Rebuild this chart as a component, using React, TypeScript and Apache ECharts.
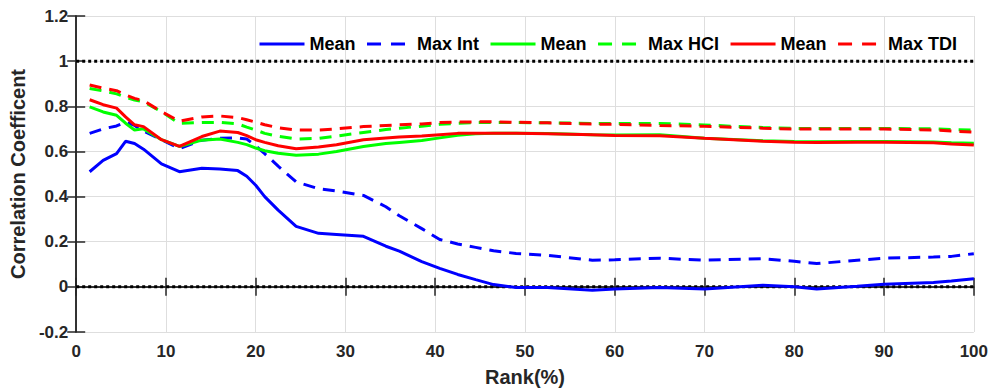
import React, { useEffect, useRef } from "react";
import * as echarts from "echarts";

const rank = [1.5, 3, 4.5, 5.5, 6.5, 7.5, 9.5, 11.5, 14, 16, 18, 19, 20, 21, 22.5, 24.5, 27, 29, 32, 34.5, 36, 38.5, 40.5, 42.5, 44.5, 46.5, 49, 52.5, 57.5, 60, 65, 70, 76.5, 80, 82.5, 87, 90, 95.5, 97.5, 100];

const meanInt = [0.51, 0.56, 0.59, 0.645, 0.635, 0.61, 0.545, 0.51, 0.525, 0.522, 0.515, 0.49, 0.45, 0.4, 0.34, 0.268, 0.237, 0.232, 0.224, 0.18, 0.158, 0.112, 0.082, 0.055, 0.032, 0.01, -0.003, -0.003, -0.015, -0.01, -0.003, -0.01, 0.007, 0.0, -0.01, 0.003, 0.012, 0.019, 0.026, 0.036];
const maxInt = [0.68, 0.7, 0.713, 0.73, 0.715, 0.69, 0.652, 0.613, 0.65, 0.658, 0.66, 0.655, 0.625, 0.59, 0.535, 0.465, 0.435, 0.425, 0.405, 0.355, 0.315, 0.258, 0.21, 0.19, 0.175, 0.16, 0.148, 0.14, 0.118, 0.12, 0.127, 0.118, 0.125, 0.113, 0.103, 0.118, 0.127, 0.132, 0.135, 0.147];
const meanHCI = [0.797, 0.775, 0.76, 0.725, 0.695, 0.7, 0.652, 0.622, 0.65, 0.655, 0.64, 0.63, 0.615, 0.603, 0.592, 0.583, 0.588, 0.6, 0.622, 0.635, 0.64, 0.648, 0.66, 0.672, 0.678, 0.68, 0.68, 0.679, 0.674, 0.673, 0.674, 0.658, 0.647, 0.644, 0.643, 0.644, 0.644, 0.642, 0.638, 0.636];
const maxHCI = [0.879, 0.868, 0.855, 0.84, 0.828, 0.82, 0.776, 0.724, 0.728, 0.729, 0.722, 0.708, 0.695, 0.68, 0.667, 0.655, 0.658, 0.668, 0.684, 0.697, 0.703, 0.712, 0.72, 0.725, 0.728, 0.728, 0.728, 0.727, 0.724, 0.724, 0.724, 0.717, 0.706, 0.702, 0.702, 0.702, 0.702, 0.7, 0.697, 0.695];
const meanTDI = [0.829, 0.807, 0.792, 0.753, 0.718, 0.71, 0.652, 0.622, 0.666, 0.69, 0.684, 0.67, 0.652, 0.64, 0.625, 0.612, 0.62, 0.63, 0.652, 0.66, 0.664, 0.668, 0.674, 0.68, 0.681, 0.681, 0.68, 0.678, 0.674, 0.671, 0.67, 0.658, 0.645, 0.641, 0.64, 0.641, 0.641, 0.638, 0.633, 0.629];
const maxTDI = [0.894, 0.88, 0.869, 0.85, 0.835, 0.825, 0.776, 0.734, 0.753, 0.757, 0.75, 0.74, 0.73, 0.718, 0.705, 0.695, 0.695, 0.7, 0.71, 0.715, 0.718, 0.722, 0.728, 0.73, 0.731, 0.731, 0.729, 0.727, 0.721, 0.72, 0.715, 0.711, 0.703, 0.699, 0.699, 0.699, 0.699, 0.695, 0.69, 0.685];

const refLevels = [0, 1];
const xRange = [0, 100];
const yRange = [-0.2, 1.2];

const seriesDefs = [
  { name: "Mean (Int)", values: meanInt, color: "#0000ff", dashed: false },
  { name: "Max Int", values: maxInt, color: "#0000ff", dashed: true },
  { name: "Mean (HCI)", values: meanHCI, color: "#00ff00", dashed: false },
  { name: "Max HCI", values: maxHCI, color: "#00ff00", dashed: true },
  { name: "Mean (TDI)", values: meanTDI, color: "#ff0000", dashed: false },
  { name: "Max TDI", values: maxTDI, color: "#ff0000", dashed: true },
];

const FONT = "Liberation Sans, Arial, Helvetica, sans-serif";
const AX = "#262626";

export default function App() {
  const ref = useRef<HTMLDivElement>(null);
  useEffect(() => {
    document.body.style.margin = "0";
    document.body.style.overflow = "hidden";
    const chart = echarts.init(ref.current!, undefined, { renderer: "svg", width: 991, height: 392 });
    const fmt = (v: number) => String(parseFloat(v.toFixed(1)));
    const lineSeries: any[] = seriesDefs.map((s) => ({
      name: s.name,
      type: "line",
      symbol: "none",
      smooth: false,
      data: rank.map((r, i) => [r, s.values[i]]),
      lineStyle: { color: s.color, width: 3, type: s.dashed ? [12, 8] : "solid" },
      itemStyle: { color: s.color },
      z: 3,
    }));
    const refSeries = refLevels.map((lv) => ({
      name: "ref" + lv,
      type: "line",
      symbol: "none",
      data: xRange.map((x) => [x, lv]),
      lineStyle: { color: "#000", width: 3, type: [3, 3] },
      z: 2,
      silent: true,
    }));
    chart.setOption({
      animation: false,
      grid: { left: 74, right: 17, top: 16, bottom: 55, containLabel: false },
      legend: {
        data: seriesDefs.map((s) => ({
          name: s.name,
          lineStyle: { width: 3, type: s.dashed ? [14, 10] : "solid" },
        })),
        left: 253,
        top: 30,
        itemWidth: 45,
        itemHeight: 14,
        itemGap: 10,
        itemStyle: { opacity: 0 },
        formatter: (n: string) => n.split(" (")[0],
        textStyle: { fontFamily: FONT, fontWeight: "bold", fontSize: 18, color: "#000" },
        selectedMode: false,
      },
      xAxis: [
        {
          type: "value",
          min: xRange[0],
          max: xRange[1],
          interval: 10,
          name: "Rank(%)",
          nameLocation: "middle",
          nameGap: 35,
          nameTextStyle: { fontFamily: FONT, fontWeight: "bold", fontSize: 20, color: AX },
          axisLine: { show: true, lineStyle: { color: AX, width: 1.5 } },
          axisTick: { show: true, inside: true, length: 9, lineStyle: { color: AX, width: 1.5 } },
          axisLabel: { fontFamily: FONT, fontWeight: "bold", fontSize: 17, color: AX, margin: 11 },
          splitLine: { show: true, lineStyle: { color: "#dedede", width: 1 } },
        },
        {
          type: "value",
          position: "top",
          min: xRange[0],
          max: xRange[1],
          interval: 10,
          axisLine: { show: true, lineStyle: { color: AX, width: 1.5 } },
          axisTick: { show: true, inside: true, length: 9, lineStyle: { color: AX, width: 1.5 } },
          axisLabel: { show: false },
          splitLine: { show: false },
        },
      ],
      yAxis: [
        {
          type: "value",
          min: yRange[0],
          max: yRange[1],
          interval: 0.2,
          name: "Correlation Coefficent",
          nameLocation: "middle",
          nameGap: 45,
          nameTextStyle: { fontFamily: FONT, fontWeight: "bold", fontSize: 20, color: AX },
          axisLine: { show: true, lineStyle: { color: AX, width: 1.5 } },
          axisTick: { show: true, inside: true, length: 9, lineStyle: { color: AX, width: 1.5 } },
          axisLabel: { fontFamily: FONT, fontWeight: "bold", fontSize: 17, color: AX, margin: 8, formatter: fmt },
          splitLine: { show: true, lineStyle: { color: "#dedede", width: 1 } },
        },
        {
          type: "value",
          position: "right",
          min: yRange[0],
          max: yRange[1],
          interval: 0.2,
          axisLine: { show: true, lineStyle: { color: AX, width: 1.5 } },
          axisTick: { show: true, inside: true, length: 9, lineStyle: { color: AX, width: 1.5 } },
          axisLabel: { show: false },
          splitLine: { show: false },
        },
      ],
      series: [...refSeries, ...lineSeries],
    });
    return () => chart.dispose();
  }, []);
  return <div ref={ref} style={{ position: "absolute", left: 0, top: 0, width: 991, height: 392 }} />;
}
